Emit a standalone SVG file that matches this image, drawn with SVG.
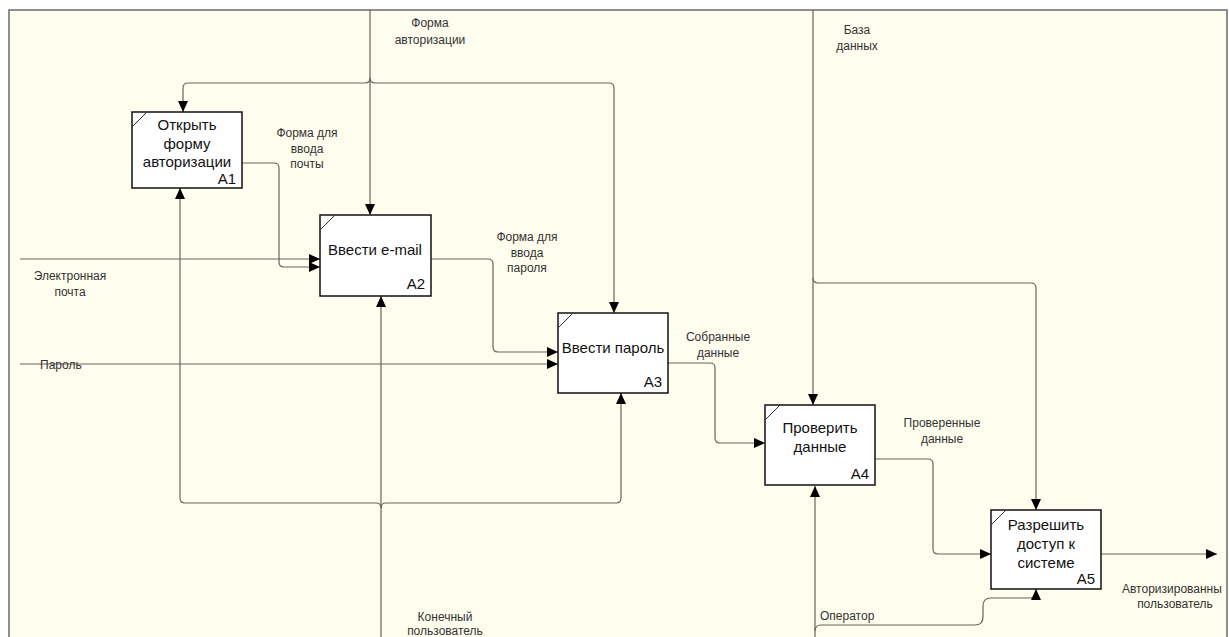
<svg xmlns="http://www.w3.org/2000/svg" width="1229" height="637" viewBox="0 0 1229 637">
  <defs>
    <marker id="ah" markerWidth="12" markerHeight="10" refX="11" refY="5" orient="auto" markerUnits="userSpaceOnUse">
      <path d="M0,0 L11,5 L0,10 z" fill="#000"/>
    </marker>
    <style>
      .frame { fill: #fffdee; stroke: #6a6a6a; stroke-width: 1.5; }
      .box { fill: #ffffff; stroke: #111; stroke-width: 1.5; }
      .tick { stroke: #333; stroke-width: 1; fill: none; }
      .arc { fill: none; stroke: #66665d; stroke-width: 1.2; }
      .arr { marker-end: url(#ah); }
      .bt { font-family: "Liberation Sans", Arial, sans-serif; font-size: 15px; fill: #111; text-anchor: middle; }
      .num { font-family: "Liberation Sans", Arial, sans-serif; font-size: 15px; fill: #111; text-anchor: end; }
      .lb { font-family: "Liberation Sans", Arial, sans-serif; font-size: 12px; fill: #333; text-anchor: middle; }
      .lbl { font-family: "Liberation Sans", Arial, sans-serif; font-size: 12px; fill: #333; }
    </style>
  </defs>

  <rect x="0" y="0" width="1229" height="637" fill="#ffffff"/>
  <rect class="frame" x="9" y="10" width="1218" height="640"/>

  <!-- arrows -->
  <g id="connectors">
    <!-- control: authorisation form -->
    <path class="arc arr" d="M370,10 V215"/>
    <path class="arc arr" d="M370,78 Q370,83 365,83 H188 Q183,83 183,88 V112"/>
    <path class="arc arr" d="M370,78 Q370,83 375,83 H609 Q614,83 614,88 V313"/>
    <!-- A1 -> A2 -->
    <path class="arc arr" d="M242,163 H274 Q279,163 279,168 V262 Q279,267 284,267 H320"/>
    <!-- inputs -->
    <path class="arc arr" d="M20,259 H320"/>
    <path class="arc arr" d="M20,364 H558"/>
    <!-- A2 -> A3 -->
    <path class="arc arr" d="M431,259 H488 Q493,259 493,264 V347 Q493,352 498,352 H558"/>
    <!-- A3 -> A4 -->
    <path class="arc arr" d="M668,363 H710 Q715,363 715,368 V438 Q715,443 720,443 H765"/>
    <!-- control: database -->
    <path class="arc arr" d="M813,10 V405"/>
    <path class="arc arr" d="M813,278 Q813,283 818,283 H1031 Q1036,283 1036,288 V510"/>
    <!-- A4 -> A5 -->
    <path class="arc arr" d="M875,459 H928 Q933,459 933,464 V549 Q933,554 938,554 H991"/>
    <!-- output -->
    <path class="arc arr" d="M1101,554 H1217"/>
    <!-- mechanism: operator -->
    <path class="arc arr" d="M815,637 V486"/>
    <path class="arc arr" d="M815,631 Q815,625 821,625 H975 Q983,625 983,617 V606 Q983,598 991,598 H1030 Q1036,598 1036,593 V589"/>
    <!-- mechanism: end user -->
    <path class="arc arr" d="M381,637 V296"/>
    <path class="arc arr" d="M381,508 Q381,503 376,503 H185 Q180,503 180,498 V188"/>
    <path class="arc arr" d="M381,508 Q381,503 386,503 H616 Q621,503 621,498 V393"/>
  </g>

  <!-- arrow labels -->
  <g id="labels">
    <text class="lb" x="430" y="27">Форма</text>
    <text class="lb" x="430" y="44">авторизации</text>
    <text class="lb" x="307" y="137">Форма для</text>
    <text class="lb" x="307" y="153">ввода</text>
    <text class="lb" x="307" y="168">почты</text>
    <text class="lb" x="70" y="280">Электронная</text>
    <text class="lb" x="70" y="296">почта</text>
    <text class="lbl" x="40" y="369">Пароль</text>
    <text class="lb" x="527" y="241">Форма для</text>
    <text class="lb" x="527" y="257">ввода</text>
    <text class="lb" x="527" y="272">пароля</text>
    <text class="lb" x="718" y="341">Собранные</text>
    <text class="lb" x="718" y="357">данные</text>
    <text class="lb" x="857" y="34">База</text>
    <text class="lb" x="857" y="50">данных</text>
    <text class="lb" x="942" y="427">Проверенные</text>
    <text class="lb" x="942" y="443">данные</text>
    <text class="lbl" x="1122" y="593">Авторизированны</text>
    <text class="lb" x="1175" y="608">пользователь</text>
    <text class="lb" x="445" y="621">Конечный</text>
    <text class="lb" x="445" y="635">пользователь</text>
    <text class="lbl" x="820" y="620">Оператор</text>
  </g>

  <!-- activity boxes -->
  <g id="A1">
    <rect class="box" x="132" y="112" width="110" height="76"/>
    <line class="tick" x1="132" y1="127" x2="147" y2="112"/>
    <text class="bt" x="187" y="130">Открыть</text>
    <text class="bt" x="187" y="149">форму</text>
    <text class="bt" x="187" y="167">авторизации</text>
    <text class="num" x="236" y="184">A1</text>
  </g>
  <g id="A2">
    <rect class="box" x="320" y="215" width="111" height="81"/>
    <line class="tick" x1="320" y1="230" x2="335" y2="215"/>
    <text class="bt" x="375" y="255">Ввести e-mail</text>
    <text class="num" x="425" y="289">A2</text>
  </g>
  <g id="A3">
    <rect class="box" x="558" y="313" width="110" height="80"/>
    <line class="tick" x1="558" y1="328" x2="573" y2="313"/>
    <text class="bt" x="613" y="353">Ввести пароль</text>
    <text class="num" x="662" y="387">A3</text>
  </g>
  <g id="A4">
    <rect class="box" x="765" y="405" width="110" height="80"/>
    <line class="tick" x1="765" y1="420" x2="780" y2="405"/>
    <text class="bt" x="820" y="433">Проверить</text>
    <text class="bt" x="820" y="452">данные</text>
    <text class="num" x="869" y="479">A4</text>
  </g>
  <g id="A5">
    <rect class="box" x="991" y="510" width="110" height="79"/>
    <line class="tick" x1="991" y1="525" x2="1006" y2="510"/>
    <text class="bt" x="1046" y="530">Разрешить</text>
    <text class="bt" x="1046" y="549">доступ к</text>
    <text class="bt" x="1046" y="568">системе</text>
    <text class="num" x="1095" y="584">A5</text>
  </g>
</svg>
